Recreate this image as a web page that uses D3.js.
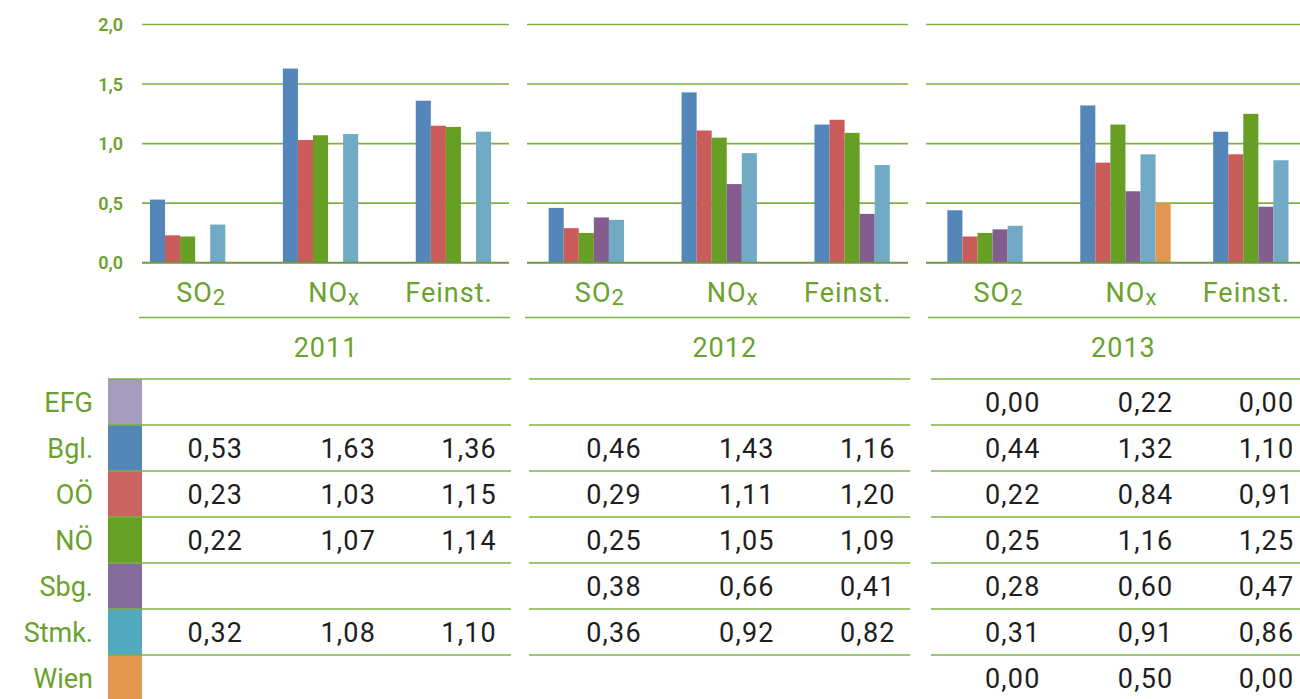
<!DOCTYPE html>
<html>
<head>
<meta charset="utf-8">
<script src="https://cdn.jsdelivr.net/npm/d3@7"></script>
<style>
  body { margin: 0; background: #fff; }
  svg { display: block; }
  text { font-family: Roboto, "DejaVu Sans", sans-serif; }
</style>
</head>
<body>
<svg id="chart" width="1300" height="699"></svg>
<script>
// data
const years = ["2011", "2012", "2013"];
const pollutants = ["SO", "NO", "Feinst."];
const pollutantSubs = ["2", "x", ""];
const regions = ["EFG", "Bgl.", "OÖ", "NÖ", "Sbg.", "Stmk.", "Wien"];
const swatchColors = ["#a69cbf", "#5586b8", "#cb6460", "#66a024", "#846d9c", "#52a9bd", "#e3974f"];
const barColors    = ["#a69cbf", "#5586b9", "#c95b5a", "#669f24", "#825d8e", "#70aac4", "#e3964f"];
const yTicks = [0, 0.5, 1, 1.5, 2];

// one value per year x pollutant: 2011 SO2, NOx, Feinst., 2012 ..., 2013 ...
const efg  = [null, null, null,  null, null, null,  0.00, 0.22, 0.00];
const bgl  = [0.53, 1.63, 1.36,  0.46, 1.43, 1.16,  0.44, 1.32, 1.10];
const ooe  = [0.23, 1.03, 1.15,  0.29, 1.11, 1.20,  0.22, 0.84, 0.91];
const noe  = [0.22, 1.07, 1.14,  0.25, 1.05, 1.09,  0.25, 1.16, 1.25];
const sbg  = [null, null, null,  0.38, 0.66, 0.41,  0.28, 0.60, 0.47];
const stmk = [0.32, 1.08, 1.10,  0.36, 0.92, 0.82,  0.31, 0.91, 0.86];
const wien = [null, null, null,  null, null, null,  0.00, 0.50, 0.00];
const values = [efg, bgl, ooe, noe, sbg, stmk, wien];
// EFG only appears in the table, not as bars
const barRegions = regions.slice(1);

const green = "#6aa22d";
const lineGreen = "#7db244";

const de = d3.formatLocale({decimal: ",", thousands: ".", grouping: [3], currency: ["", "€"]});
const fmt2 = de.format(".2f");
const fmt1 = de.format(".1f");

const svg = d3.select("#chart");

// panels are separated by small white gaps
const gridPanels  = [[142, 509], [527, 908], [926, 1300]];
const yearPanels  = [[139, 510], [525, 910], [928, 1300]];
const tablePanels = [[108, 511], [529, 910], [931, 1300]];

const keys = [];
years.forEach(y => pollutants.forEach((p, j) => keys.push(y + "|" + j)));

const x = d3.scaleBand()
  .domain(keys)
  .range([128.7, 128.7 + 9 * 132.9])
  .paddingInner(0.32)
  .paddingOuter(0.16);

const xSlot = d3.scaleBand()
  .domain(barRegions)
  .range([0, x.bandwidth()]);

const y = d3.scaleLinear().domain([0, 2]).range([262.7, 24.5]);

// gridlines
gridPanels.forEach(([a, b]) => {
  svg.append("g")
    .selectAll("line")
    .data(yTicks.slice(1))
    .join("line")
    .attr("x1", a).attr("x2", b)
    .attr("y1", d => y(d)).attr("y2", d => y(d))
    .attr("stroke", lineGreen)
    .attr("stroke-width", 1.6);
});

// y tick labels
svg.append("g")
  .selectAll("text")
  .data(yTicks)
  .join("text")
  .attr("x", 123)
  .attr("y", d => y(d))
  .attr("dy", "0.36em")
  .attr("text-anchor", "end")
  .attr("fill", green)
  .style("font-size", "18px")
  .style("font-weight", 600)
  .text(d => fmt1(d));

// bars
const barData = [];
regions.forEach((r, i) => {
  if (!barRegions.includes(r)) return;
  values[i].forEach((v, k) => {
    if (v === null) return;
    barData.push({region: r, color: barColors[i], key: keys[k], value: v});
  });
});

svg.append("g")
  .selectAll("rect")
  .data(barData)
  .join("rect")
  .attr("x", d => x(d.key) + xSlot(d.region))
  .attr("width", xSlot.bandwidth())
  .attr("y", d => y(d.value))
  .attr("height", d => y(0) - y(d.value))
  .attr("fill", d => d.color);

// baseline
gridPanels.forEach(([a, b]) => {
  svg.append("line")
    .attr("x1", a).attr("x2", b)
    .attr("y1", y(0)).attr("y2", y(0))
    .attr("stroke", "#6f9640")
    .attr("stroke-width", 2);
});

// pollutant labels
const labelShift = [6, 6, -12];
const catLabels = svg.append("g")
  .selectAll("text")
  .data(keys)
  .join("text")
  .attr("x", d => x(d) + x.bandwidth() / 2 + labelShift[+d.split("|")[1]])
  .attr("y", 302)
  .attr("text-anchor", "middle")
  .attr("fill", green)
  .style("font-size", "27px")
  .style("letter-spacing", "1px");
catLabels.append("tspan").text(d => pollutants[+d.split("|")[1]]);
catLabels.append("tspan")
  .attr("dy", 3)
  .style("font-size", "22px")
  .text(d => pollutantSubs[+d.split("|")[1]]);

// year rows
yearPanels.forEach(([a, b]) => {
  svg.append("line")
    .attr("x1", a).attr("x2", b)
    .attr("y1", 317.5).attr("y2", 317.5)
    .attr("stroke", lineGreen)
    .attr("stroke-width", 1.6);
});

svg.append("g")
  .selectAll("text")
  .data(years)
  .join("text")
  .attr("x", d => (x(d + "|0") + x(d + "|2") + x.bandwidth()) / 2 - 2)
  .attr("y", 357)
  .attr("text-anchor", "middle")
  .attr("fill", green)
  .style("font-size", "27px")
  .style("letter-spacing", "1px")
  .text(d => d);

// table
const row = d3.scaleBand().domain(regions).range([379, 379 + 7 * 46]);

svg.append("g")
  .selectAll("rect")
  .data(regions)
  .join("rect")
  .attr("x", 108)
  .attr("width", 34)
  .attr("y", d => row(d))
  .attr("height", row.bandwidth())
  .attr("fill", (d, i) => swatchColors[i]);

svg.append("g")
  .selectAll("text")
  .data(regions)
  .join("text")
  .attr("x", 93)
  .attr("y", d => row(d) + row.bandwidth() / 2)
  .attr("dy", "0.36em")
  .attr("text-anchor", "end")
  .attr("fill", green)
  .style("font-size", "27px")
  .text(d => d);

tablePanels.forEach(([a, b]) => {
  svg.append("g")
    .selectAll("line")
    .data(regions)
    .join("line")
    .attr("x1", a).attr("x2", b)
    .attr("y1", d => row(d)).attr("y2", d => row(d))
    .attr("stroke", lineGreen)
    .attr("stroke-width", 1.6);
});

const numShift = [48, 48, 36];
const cells = [];
regions.forEach((r, i) => {
  values[i].forEach((v, k) => {
    if (v === null) return;
    cells.push({region: r, key: keys[k], value: v});
  });
});

svg.append("g")
  .selectAll("text")
  .data(cells)
  .join("text")
  .attr("x", d => x(d.key) + x.bandwidth() / 2 + numShift[+d.key.split("|")[1]])
  .attr("y", d => row(d.region) + row.bandwidth() / 2)
  .attr("dy", "0.36em")
  .attr("text-anchor", "end")
  .attr("fill", "#1e1e1e")
  .style("font-size", "27px")
  .style("letter-spacing", "1.2px")
  .text(d => fmt2(d.value));
</script>
</body>
</html>
